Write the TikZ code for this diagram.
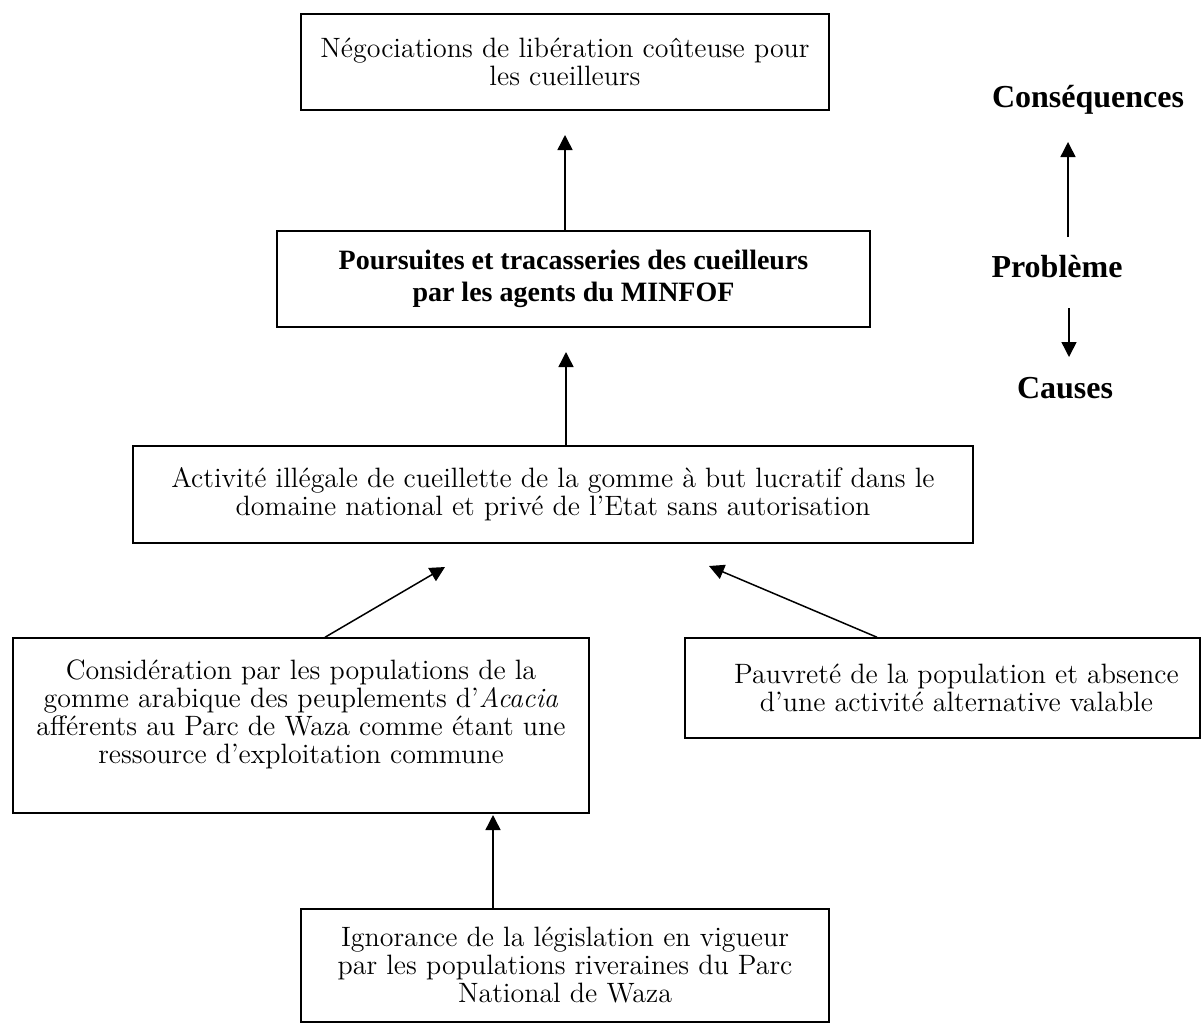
\documentclass[tikz,border=0pt]{standalone}
\usepackage{fontspec}
\newfontfamily\timesfont{Liberation Serif}
\usetikzlibrary{arrows.meta}
\tikzset{
  boite/.style={draw,line width=0.75pt,inner sep=0pt,align=center,
    font=\fontsize{14}{14}\selectfont},
  fleche/.style={line width=0.75pt,-{Triangle[width=7.5pt,length=7.5pt]}},
  titre/.style={font=\timesfont\bfseries\fontsize{16}{18}\selectfont}
}
\begin{document}
\begin{tikzpicture}[x=0.5pt,y=-0.5pt]
        \useasboundingbox (0,0) rectangle (1203,1024);
        % boxes, from consequences down to causes
        \node[boite,minimum width=264pt,minimum height=48pt] (conseq) at (565,62)
          {Négociations de libération coûteuse pour\\les cueilleurs};
        \node[boite,minimum width=296.5pt,minimum height=48pt,font=\timesfont\bfseries\fontsize{14}{16}\selectfont] (probleme) at (573.5,279)
          {Poursuites et tracasseries des cueilleurs\\par les agents du MINFOF};
        \node[boite,minimum width=420pt,minimum height=48.5pt] (activite) at (553,494.5)
          {Activité illégale de cueillette de la gomme à but lucratif dans le\\domaine national et privé de l’Etat sans autorisation};
        \node[boite,minimum width=288pt,minimum height=87.5pt] (consid) at (301,725.5)
          {Considération par les populations de la\\gomme arabique des peuplements d’\textit{Acacia}\\afférents au Parc de Waza comme étant une\\ressource d’exploitation commune\\\mbox{}};
        \node[boite,minimum width=257.5pt,minimum height=50pt] (pauvrete) at (942.5,688)
          {\hspace*{14pt}Pauvreté de la population et absence\\\hspace*{14pt}d’une activité alternative valable};
        \node[boite,minimum width=264pt,minimum height=56.5pt] (ignorance) at (565,965.5)
          {Ignorance de la législation en vigueur\\par les populations riveraines du Parc\\National de Waza};
        % arrow ends
        \coordinate (p1) at (565,135);
        \coordinate (p2) at (566,352);
        \coordinate (p3) at (445,567);
        \coordinate (q3) at (325,0);
        \coordinate (p4) at (709,566);
        \coordinate (q4) at (877,0);
        \coordinate (p5) at (493,815);
        \draw[fleche] (probleme.north -| p1) -- (p1);
        \draw[fleche] (activite.north -| p2) -- (p2);
        \draw[fleche] (consid.north -| q3) -- (p3);
        \draw[fleche] (pauvrete.north -| q4) -- (p4);
        \draw[fleche] (ignorance.north -| p5) -- (p5);
        % legend on the right
        \node[titre] (lblcons) at (1088,100) {Conséquences};
        \node[titre] (lblprob) at (1057,267) {Problème};
        \node[titre] (lblcaus) at (1065,388) {Causes};
        \coordinate (hautA) at (1068,237);
        \coordinate (hautB) at (1068,142);
        \coordinate (basA) at (1069,308);
        \coordinate (basB) at (1069,357);
        \draw[fleche] (hautA) -- (hautB);
        \draw[fleche] (basA) -- (basB);
\end{tikzpicture}
\end{document}
